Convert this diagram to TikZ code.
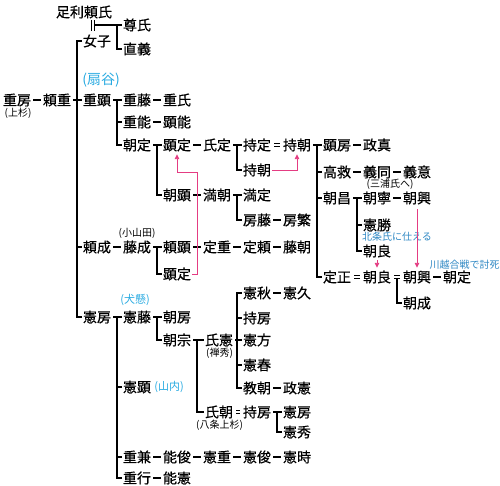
\documentclass[tikz,border=0pt]{standalone}
\usepackage{fontspec}
\newfontfamily\cjk{Noto Sans CJK JP}
\newfontfamily\cjkm[FakeBold=0.5]{Noto Sans CJK JP}
\usetikzlibrary{arrows.meta}
\definecolor{pinkc}{RGB}{228,60,130}
\definecolor{cyanc}{RGB}{40,170,225}
\definecolor{bluec}{RGB}{45,135,195}
\newcommand\mydash[2]{\draw[ln] ([xshift=1.2pt]#1.east) -- ([xshift=-1.2pt]#2.west);}
\newcommand\mydbl[2]{\draw[dbl] ([xshift=2pt,yshift=1.6pt]#1.east) -- ([xshift=-2pt,yshift=1.6pt]#2.west);
  \draw[dbl] ([xshift=2pt,yshift=-1.6pt]#1.east) -- ([xshift=-2pt,yshift=-1.6pt]#2.west);}
\begin{document}
\begin{tikzpicture}[x=1pt,y=-1pt,
  nm/.style={font=\cjkm\fontsize{14}{14}\selectfont, inner sep=1pt, text height=12.3pt, text depth=1.7pt},
  sm/.style={font=\cjk\fontsize{10}{10}\selectfont, inner sep=0.5pt},
  cy/.style={font=\cjk\fontsize{#1}{#1}\selectfont, inner sep=0.5pt, text=cyanc},
  bl/.style={font=\cjk\fontsize{10}{10}\selectfont, inner sep=0.5pt, text=bluec},
  ln/.style={line width=1.7pt},
  dbl/.style={line width=0.8pt},
  pk/.style={draw=pinkc, line width=0.9pt, -{Triangle[length=5pt,width=4.5pt]}}]
\useasboundingbox (0,0) rectangle (500,486);
% names
\node[nm] (ashikaga) at (84,12) {足利頼氏};
\node[nm] (takauji) at (137,25) {尊氏};
\node[nm] (tadayoshi) at (137,49) {直義};
\node[nm] (nyoshi) at (97,41) {女子};
\node[cy=14] (ogi) at (101,80) {(扇谷)};
\node[nm] (shigefusa) at (17,100) {重房};
\node[sm] (uesugi) at (18,113) {(上杉)};
\node[nm] (yorishige) at (57,100) {頼重};
\node[nm] (shigeaki) at (97,100) {重顕};
\node[nm] (shigefuji) at (137,100) {重藤};
\node[nm] (shigeuji) at (177,100) {重氏};
\node[nm] (shigeyoshi) at (137,122) {重能};
\node[nm] (akiyoshi) at (177,122) {顕能};
\node[nm] (tomosada) at (137,145) {朝定};
\node[nm] (akisada1) at (177,145) {顕定};
\node[nm] (ujisada) at (217,145) {氏定};
\node[nm] (mochisada) at (257,145) {持定};
\node[nm] (mochitomo1) at (297,145) {持朝};
\node[nm] (akifusa) at (337,145) {顕房};
\node[nm] (masazane) at (377,145) {政真};
\node[nm] (mochitomo2) at (257,170) {持朝};
\node[nm] (takahira) at (337,172) {高救};
\node[nm] (yoshiatsu) at (377,172) {義同};
\node[nm] (yoshioki) at (417,172) {義意};
\node[sm] (miura) at (390,184) {(三浦氏へ)};
\node[nm] (tomoaki) at (177,195) {朝顕};
\node[nm] (mitsutomo) at (217,195) {満朝};
\node[nm] (mitsusada) at (257,195) {満定};
\node[nm] (tomomasa) at (337,198) {朝昌};
\node[nm] (tomoyasu) at (377,198) {朝寧};
\node[nm] (tomooki1) at (417,198) {朝興};
\node[nm] (fusafuji) at (257,220) {房藤};
\node[nm] (fusashige) at (297,220) {房繁};
\node[nm] (norikatsu) at (377,225) {憲勝};
\node[bl] (hojo) at (397,237) {北条氏に仕える};
\node[sm] (oyamada) at (137,233) {(小山田)};
\node[nm] (yorinari) at (97,247) {頼成};
\node[nm] (fujinari) at (137,247) {藤成};
\node[nm] (yoriaki) at (177,247) {頼顕};
\node[nm] (sadashige) at (217,247) {定重};
\node[nm] (sadayori) at (257,247) {定頼};
\node[nm] (fujitomo) at (297,247) {藤朝};
\node[nm] (tomoyoshi1) at (377,251) {朝良};
\node[nm] (akisada2) at (177,274) {顕定};
\node[bl] (kawagoe) at (464.5,265) {川越合戦で討死};
\node[nm] (sadamasa) at (337,277) {定正};
\node[nm] (tomoyoshi2) at (377,277) {朝良};
\node[nm] (tomooki2) at (417,277) {朝興};
\node[nm] (tomosada2) at (457,277) {朝定};
\node[nm] (tomoshige) at (417,303) {朝成};
\node[cy=11] (inukake) at (135,300) {(犬懸)};
\node[nm] (noriaki) at (257,293) {憲秋};
\node[nm] (norihisa) at (297,293) {憲久};
\node[nm] (norifusa) at (97,317) {憲房};
\node[nm] (norifuji) at (137,317) {憲藤};
\node[nm] (tomofusa) at (177,317) {朝房};
\node[nm] (mochifusa) at (257,318) {持房};
\node[nm] (tomomune) at (177,340) {朝宗};
\node[nm] (ujinori) at (219,340) {氏憲};
\node[sm] (zenshu) at (219.5,353) {(禅秀)};
\node[nm] (norikata) at (257,340) {憲方};
\node[nm] (noriharu) at (257,365) {憲春};
\node[nm] (noriaki2) at (137,387) {憲顕};
\node[cy=11] (yamanouchi) at (169,387) {(山内)};
\node[nm] (noritomo) at (257,388) {教朝};
\node[nm] (masanori) at (297,388) {政憲};
\node[nm] (ujitomo) at (219,412) {氏朝};
\node[sm] (hachijo) at (219.5,425) {(八条上杉)};
\node[nm] (mochifusa2) at (257,412) {持房};
\node[nm] (norifusa2) at (297,412) {憲房};
\node[nm] (norihide) at (297,432) {憲秀};
\node[nm] (shigekane) at (137,457) {重兼};
\node[nm] (yoshitoshi) at (177,457) {能俊};
\node[nm] (norishige) at (217,457) {憲重};
\node[nm] (noritoshi) at (257,457) {憲俊};
\node[nm] (noritoki) at (297,457) {憲時};
\node[nm] (shigeyuki) at (137,478) {重行};
\node[nm] (yoshinori) at (177,478) {能憲};
% single dashes
\mydash{shigefusa}{yorishige}
\mydash{shigefuji}{shigeuji}
\mydash{shigeyoshi}{akiyoshi}
\mydash{akisada1}{ujisada}
\mydash{akifusa}{masazane}
\mydash{takahira}{yoshiatsu}
\mydash{yoshiatsu}{yoshioki}
\mydash{tomoyasu}{tomooki1}
\mydash{tomoaki}{mitsutomo}
\mydash{fusafuji}{fusashige}
\mydash{yorinari}{fujinari}
\mydash{yoriaki}{sadashige}
\mydash{sadashige}{sadayori}
\mydash{sadayori}{fujitomo}
\mydash{tomooki2}{tomosada2}
\mydash{noriaki}{norihisa}
\mydash{noritomo}{masanori}
\mydash{shigekane}{yoshitoshi}
\mydash{yoshitoshi}{norishige}
\mydash{norishige}{noritoshi}
\mydash{noritoshi}{noritoki}
\mydash{shigeyuki}{yoshinori}
% double lines
\mydbl{mochisada}{mochitomo1}
\mydbl{sadamasa}{tomoyoshi2}
\mydbl{ujitomo}{mochifusa2}
\mydbl{tomoyoshi2}{tomooki2}
% Ashikaga marriage
\coordinate (m1) at (91.5,20);
\coordinate (m2) at (91.5,31);
\coordinate (m3) at (94.5,20);
\coordinate (m4) at (94.5,31);
\draw[dbl] (m1) -- (m2);
\draw[dbl] (m3) -- (m4);
\draw[ln] (94.5,25) -- (takauji.west);
\draw[ln] (117,25) |- (tadayoshi.west);
% main line
\draw[ln] (nyoshi.west) -- (77,41) |- (norifusa.west);
\draw[ln] ([xshift=1pt]yorishige.east) -- (shigeaki.west);
\draw[ln] (77,247) -- (yorinari.west);
% 重顕
\draw[ln] ([xshift=1pt]shigeaki.east) -- (shigefuji.west);
\draw[ln] (117,100) |- (tomosada.west);
\draw[ln] (117,122) -- (shigeyoshi.west);
% 朝定
\draw[ln] ([xshift=1pt]tomosada.east) -- (akisada1.west);
\draw[ln] (157,145) |- (tomoaki.west);
% 氏定
\draw[ln] ([xshift=1pt]ujisada.east) -- (mochisada.west);
\draw[ln] (237,145) |- (mochitomo2.west);
% 持朝
\draw[ln] ([xshift=1pt]mochitomo1.east) -- (akifusa.west);
\draw[ln] (317,145) |- (sadamasa.west);
\draw[ln] (317,172) -- (takahira.west);
\draw[ln] (317,198) -- (tomomasa.west);
% 満朝
\draw[ln] ([xshift=1pt]mitsutomo.east) -- (mitsusada.west);
\draw[ln] (237,195) |- (fusafuji.west);
% 朝昌
\draw[ln] ([xshift=1pt]tomomasa.east) -- (tomoyasu.west);
\draw[ln] (357,198) |- (tomoyoshi1.west);
\draw[ln] (357,225) -- (norikatsu.west);
% 藤成
\draw[ln] ([xshift=1pt]fujinari.east) -- (yoriaki.west);
\draw[ln] (157,247) |- (akisada2.west);
% 朝良 = 朝興 / 朝成
\draw[ln] (397,278.6) |- (tomoshige.west);
% 憲房
\draw[ln] ([xshift=1pt]norifusa.east) -- (norifuji.west);
\draw[ln] (117,317) |- (shigeyuki.west);
\draw[ln] (117,387) -- (noriaki2.west);
\draw[ln] (117,457) -- (shigekane.west);
% 憲藤
\draw[ln] ([xshift=1pt]norifuji.east) -- (tomofusa.west);
\draw[ln] (157,317) |- (tomomune.west);
% 朝宗
\draw[ln] ([xshift=1pt]tomomune.east) -- (ujinori.west);
\draw[ln] (197,340) |- (ujitomo.west);
% 氏憲
\draw[ln] ([xshift=1pt]ujinori.east) -- (norikata.west);
\draw[ln] (noriaki.west) -- (237,293) |- (noritomo.west);
\draw[ln] (237,318) -- (mochifusa.west);
\draw[ln] (237,365) -- (noriharu.west);
% 持房
\draw[ln] ([xshift=1pt]mochifusa2.east) -- (norifusa2.west);
\draw[ln] (277,412) |- (norihide.west);
% pink adoption lines
\coordinate (pa) at (197,172);
\draw[pk] (akisada2.east) -| (pa) -| ([yshift=-1pt]akisada1.south);
\draw[pk] (mochitomo2.east) -| ([yshift=-1pt]mochitomo1.south);
\draw[pk] ([yshift=-1pt]tomoyoshi1.south) -- ([yshift=1pt]tomoyoshi2.north);
\draw[pk] ([yshift=-3pt]tomooki1.south) -- ([yshift=1pt]tomooki2.north);
\end{tikzpicture}
\end{document}
